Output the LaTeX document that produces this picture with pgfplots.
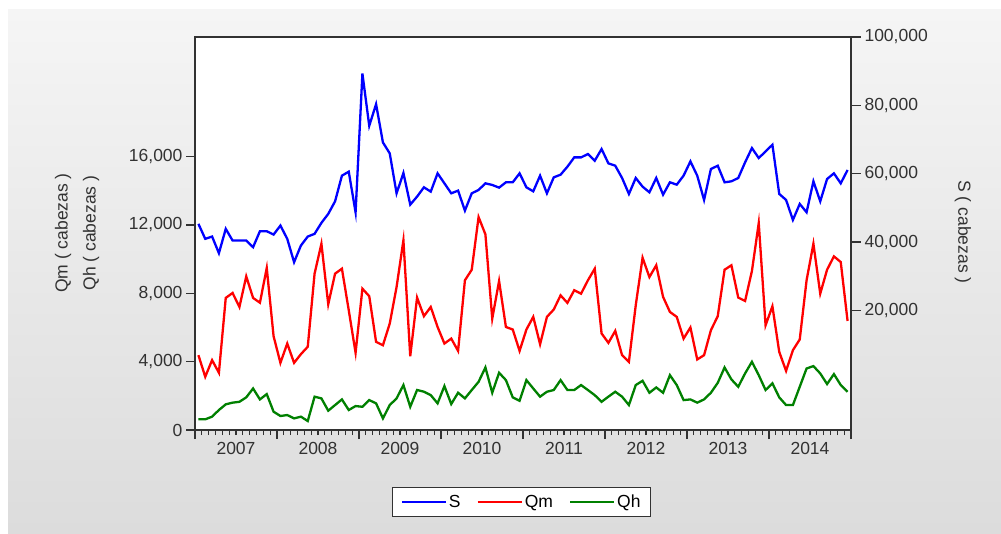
\documentclass[border=0pt]{standalone}
\usepackage{pgfplots}
\pgfplotsset{compat=1.18}
\usepackage{pgfplotstable}
\usepackage{fontspec}
\setmainfont{Liberation Sans}
\definecolor{sblue}{RGB}{0,0,255}
\definecolor{qred}{RGB}{255,0,0}
\definecolor{qgreen}{RGB}{0,128,0}
\definecolor{bgtop}{RGB}{245,245,245}
\definecolor{bgbot}{RGB}{220,220,220}
\definecolor{axgray}{RGB}{50,50,50}
\pgfplotstableread{
x S Qm Qh
0.5 45320 4380 625
1.5 40940 3115 625
2.5 41610 4090 780
3.5 36740 3350 1170
4.5 43860 7730 1500
5.5 40440 8020 1600
6.5 40440 7200 1650
7.5 40440 8990 1910
8.5 38490 7730 2430
9.5 43160 7450 1790
10.5 43160 9480 2100
11.5 42190 5490 1070
12.5 44820 3930 820
13.5 40940 5060 875
14.5 34110 3930 680
15.5 38980 4440 780
16.5 41610 4870 525
17.5 42400 9150 1950
18.5 45610 10900 1850
19.5 48240 7360 1130
20.5 51920 9150 1460
21.5 59420 9440 1790
22.5 60590 7010 1170
23.5 48710 4520 1400
24.5 89300 8270 1360
25.5 74020 7830 1750
26.5 80350 5160 1560
27.5 69150 4960 680
28.5 65940 6230 1460
29.5 54260 8370 1850
30.5 60200 11100 2630
31.5 50950 4320 1360
32.5 53290 7750 2340
33.5 56020 6660 2240
34.5 54750 7200 2040
35.5 60100 6030 1560
36.5 57180 5060 2570
37.5 54260 5350 1520
38.5 55040 4630 2180
39.5 49200 8760 1850
40.5 54260 9380 2340
41.5 55240 12460 2820
42.5 57180 11450 3660
43.5 56700 6520 2180
44.5 55920 8720 3350
45.5 57480 6030 2920
46.5 57480 5880 1910
47.5 60100 4630 1710
48.5 56010 5880 2920
49.5 54840 6620 2430
50.5 59420 5020 1950
51.5 54260 6620 2240
52.5 58930 7050 2340
53.5 59710 7880 2920
54.5 62050 7440 2340
55.5 64770 8180 2340
56.5 64770 7980 2630
57.5 65750 8760 2340
58.5 63800 9440 2040
59.5 67210 5650 1650
60.5 63020 5100 1950
61.5 62340 5800 2240
62.5 58740 4380 1950
63.5 54070 3990 1460
64.5 58740 7300 2630
65.5 56210 10080 2880
66.5 54550 8950 2180
67.5 58740 9640 2490
68.5 53870 7790 2180
69.5 57480 6910 3210
70.5 56790 6620 2630
71.5 59420 5350 1750
72.5 63600 6000 1790
73.5 59420 4130 1600
74.5 52320 4380 1790
75.5 61370 5840 2180
76.5 62340 6660 2760
77.5 57480 9380 3660
78.5 57770 9640 2960
79.5 58740 7750 2530
80.5 63310 7550 3310
81.5 67500 9300 3990
82.5 64580 12110 3210
83.5 66520 6130 2340
84.5 68470 7240 2730
85.5 54070 4570 1910
86.5 52320 3460 1460
87.5 46480 4670 1460
88.5 51150 5300 2530
89.5 48710 8760 3600
90.5 57770 10900 3740
91.5 51920 7980 3310
92.5 58450 9380 2690
93.5 60100 10160 3270
94.5 57180 9830 2630
95.5 61080 6380 2240
}\data
\newcommand{\lfont}{\fontsize{17.5}{20}\selectfont}
\begin{document}
\begin{tikzpicture}[x=1pt,y=1pt]
\fill[white] (0,0) rectangle (1001,533);
\shade[top color=bgtop, bottom color=bgbot] (8,0) rectangle (1001,523);
\begin{axis}[
  at={(195pt,103pt)}, anchor=south west, scale only axis,
  width=656pt, height=393pt,
  xmin=0, xmax=96, ymin=0, ymax=23000,
  axis background/.style={fill=white},
  axis line style={axgray, line width=1.2pt},
  every tick/.style={axgray, line width=1.1pt},
  tick align=outside, xtick pos=bottom, ytick pos=left,
  major tick length=9pt, minor tick length=5pt,
  xtick={0,12,...,96}, xticklabels={}, minor x tick num=11,
  extra x ticks={6,18,30,42,54,66,78,90},
  extra x tick labels={2007,2008,2009,2010,2011,2012,2013,2014},
  extra x tick style={tick style={draw=none}},
  ytick={0,4000,8000,12000,16000}, scaled y ticks=false,
  /pgf/number format/.cd, fixed, 1000 sep={,}, assume math mode=true, /pgfplots/.cd,
  tick label style={font=\lfont, text=axgray},
  legend style={at={(0.498,-0.183)}, anchor=center, draw=axgray, line width=1pt,
    fill=white, font=\lfont, inner xsep=8pt, inner ysep=5pt,
    /tikz/every even column/.append style={column sep=14pt}},
  legend columns=3,
  legend image code/.code={\draw[#1] (0pt,0pt) -- (44pt,0pt);},
]
\addlegendimage{sblue, line width=2pt}\addlegendentry{S}
\addplot[qred, line width=2.3pt] table[x=x,y=Qm]{\data};
\addlegendentry{Qm}
\addplot[qgreen, line width=2.3pt] table[x=x,y=Qh]{\data};
\addlegendentry{Qh}
\end{axis}
\begin{axis}[
  at={(195pt,103pt)}, anchor=south west, scale only axis,
  width=656pt, height=393pt,
  xmin=0, xmax=96, ymin=-15000, ymax=100000,
  axis x line=none, axis y line*=right,
  axis line style={axgray, line width=1.2pt},
  every tick/.style={axgray, line width=1.1pt},
  tick align=outside, major tick length=10pt,
  ytick={20000,40000,60000,80000,100000}, scaled y ticks=false,
  /pgf/number format/.cd, fixed, 1000 sep={,}, assume math mode=true, /pgfplots/.cd,
  tick label style={font=\lfont, text=axgray},
]
\addplot[sblue, line width=2.3pt] table[x=x,y=S]{\data};
\end{axis}
\node[rotate=90, font=\lfont, text=axgray] at (63,300) {Qm ( cabezas )};
\node[rotate=90, font=\lfont, text=axgray] at (91,300) {Qh ( cabezas )};
\node[rotate=-90, font=\lfont, text=axgray] at (963,301) {S ( cabezas )};
\pgfresetboundingbox
\useasboundingbox (0,0) rectangle (1001,533);
\end{tikzpicture}
\end{document}
